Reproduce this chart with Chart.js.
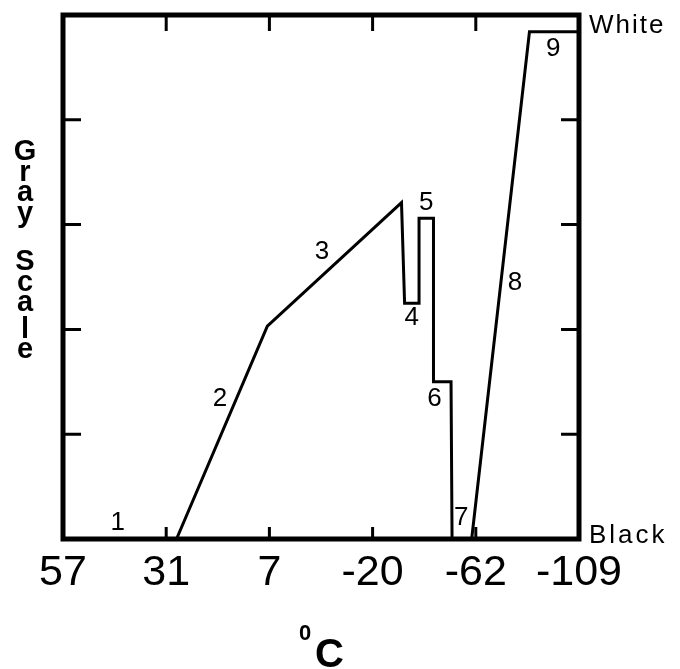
<!DOCTYPE html>
<html><head><meta charset="utf-8">
<script src="https://cdn.jsdelivr.net/npm/chart.js@4"></script>
<style>html,body{margin:0;padding:0;background:#fff}#wrap{width:680px;height:669px}</style>
</head><body><div id="wrap"><canvas id="c" width="680" height="669"></canvas></div>
<script>
// Temperature tick labels (equally spaced positions 0..5 on the scale)
const tempLabels = ['57', '31', '7', '-20', '-62', '-109'];
// Curve vertices: position along temperature scale, gray level (0 = black, 5 = white)
const curveX = [0, 1.10, 1.98, 3.28, 3.31, 3.45, 3.45, 3.59, 3.59, 3.76, 3.77, 3.96, 4.52, 5];
const curveY = [0, 0, 2.03, 3.21, 2.25, 2.25, 3.06, 3.06, 1.50, 1.50, 0, 0, 4.84, 4.84];
// Segment numbers and where they are written (data units)
const segmentNames = ['1', '2', '3', '4', '5', '6', '7', '8', '9'];
const segmentLabelX = [0.53, 1.52, 2.51, 3.38, 3.52, 3.60, 3.86, 4.38, 4.75];
const segmentLabelY = [0.16, 1.35, 2.75, 2.12, 3.22, 1.35, 0.21, 2.45, 4.69];
const grayTicks = [1, 2, 3, 4];
const tempTicks = [1, 2, 3, 4];
const topLabel = 'White';
const bottomLabel = 'Black';
const yTitle = 'Gray Scale';
const xTitleSup = '0';
const xTitleMain = 'C';

const FONT = '"Liberation Sans", Arial, sans-serif';

const decor = {
  id: 'decor',
  afterDatasetsDraw(chart) {
    const ctx = chart.ctx;
    const a = chart.chartArea;
    const xs = chart.scales.x, ys = chart.scales.y;
    ctx.save();
    ctx.strokeStyle = '#000';
    ctx.fillStyle = '#000';
    // frame
    ctx.lineWidth = 5;
    ctx.strokeRect(a.left, a.top, a.right - a.left, a.bottom - a.top);
    // inward ticks
    ctx.lineWidth = 3;
    ctx.beginPath();
    tempTicks.forEach(v => {
      const px = xs.getPixelForValue(v);
      ctx.moveTo(px, a.top); ctx.lineTo(px, a.top + 16);
      ctx.moveTo(px, a.bottom); ctx.lineTo(px, a.bottom - 12);
    });
    grayTicks.forEach(v => {
      const py = ys.getPixelForValue(v);
      ctx.moveTo(a.left, py); ctx.lineTo(a.left + 18, py);
      ctx.moveTo(a.right, py); ctx.lineTo(a.right - 18, py);
    });
    ctx.stroke();
    // segment numbers
    ctx.font = '26px ' + FONT;
    ctx.textAlign = 'center';
    ctx.textBaseline = 'middle';
    segmentNames.forEach((t, i) => {
      ctx.fillText(t, xs.getPixelForValue(segmentLabelX[i]), ys.getPixelForValue(segmentLabelY[i]) + 1);
    });
    // White / Black
    ctx.font = '26px ' + FONT;
    ctx.textAlign = 'left';
    ctx.textBaseline = 'alphabetic';
    ctx.letterSpacing = '2px';
    ctx.fillText(topLabel, a.right + 10, a.top + 18);
    ctx.letterSpacing = '3px';
    ctx.fillText(bottomLabel, a.right + 10, a.bottom + 4);
    ctx.letterSpacing = '0px';
    // stacked y title
    ctx.font = 'bold 29px ' + FONT;
    ctx.textAlign = 'center';
    let y = 140;
    for (const ch of yTitle) {
      if (ch === ' ') { y += 18; continue; }
      const m = ctx.measureText(ch);
      const asc = m.actualBoundingBoxAscent, desc = m.actualBoundingBoxDescent;
      ctx.fillText(ch, 25, y + asc);
      y += asc + desc + 4.5;
    }
    // x title: superscript 0 and C
    ctx.font = 'bold 22px ' + FONT;
    ctx.textAlign = 'left';
    ctx.fillText(xTitleSup, 299, 640);
    ctx.font = 'bold 40px ' + FONT;
    ctx.fillText(xTitleMain, 315, 667);
    ctx.restore();
  }
};

new Chart(document.getElementById('c'), {
  type: 'line',
  data: {
    datasets: [{
      data: curveX.map((x, i) => ({ x: x, y: curveY[i] })),
      borderColor: '#000',
      borderWidth: 3,
      pointRadius: 0,
      tension: 0,
      fill: false
    }]
  },
  options: {
    responsive: false,
    animation: false,
    devicePixelRatio: 1,
    layout: { padding: { left: 0, right: 101, top: 15, bottom: 0 } },
    plugins: { legend: { display: false }, tooltip: { enabled: false } },
    scales: {
      x: {
        type: 'linear', min: 0, max: 5, position: 'bottom',
        afterBuildTicks: s => { s.ticks = tempLabels.map((_, i) => ({ value: i })); },
        ticks: {
          callback: (v, i) => tempLabels[i],
          font: { family: FONT, size: 43 },
          color: '#000', padding: 8, maxRotation: 0, autoSkip: false
        },
        grid: { display: false, drawTicks: false },
        border: { display: false },
        afterFit: s => { s.height = 130; }
      },
      y: {
        type: 'linear', min: 0, max: 5, position: 'left',
        ticks: { display: false },
        grid: { display: false, drawTicks: false },
        border: { display: false },
        afterFit: s => { s.width = 63; }
      }
    }
  },
  plugins: [decor]
});
</script>
</body></html>
